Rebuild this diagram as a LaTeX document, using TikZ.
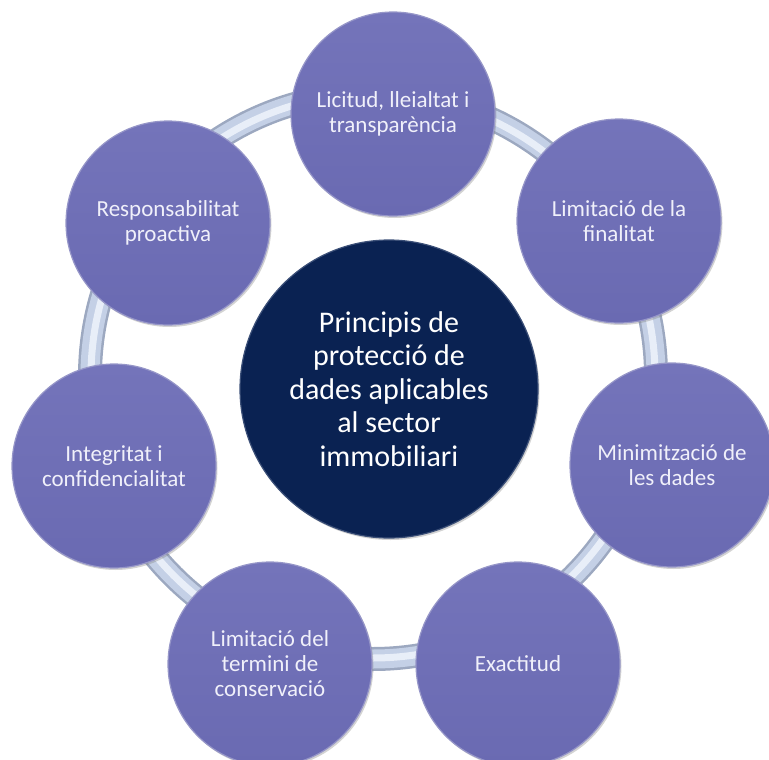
\documentclass[tikz,border=0pt]{standalone}
\usepackage{fontspec}
\setmainfont{Carlito}
\usetikzlibrary{shadows}
\definecolor{ringdark}{RGB}{156,168,192}
\definecolor{ringmid}{RGB}{196,208,230}
\definecolor{ringlight}{RGB}{232,238,248}
\definecolor{petal}{RGB}{106,106,178}
\definecolor{petaltop}{RGB}{116,116,186}
\definecolor{petalline}{RGB}{150,150,200}
\definecolor{petaltext}{RGB}{240,240,250}
\definecolor{hub}{RGB}{10,34,82}
\definecolor{hubline}{RGB}{60,80,120}
\tikzset{
  petal/.style={circle, minimum size=204pt, inner sep=0pt, top color=petaltop, bottom color=petal,
    draw=petalline, line width=1.2pt,
    drop shadow={shadow xshift=1.5pt, shadow yshift=-2pt, opacity=0.35},
    text=petaltext, font=\fontsize{23}{25}\selectfont, align=center},
  hubnode/.style={circle, minimum size=298pt, inner sep=0pt, fill=hub, draw=hubline, line width=1.2pt,
    drop shadow={shadow xshift=1.5pt, shadow yshift=-2pt, opacity=0.35},
    text=white, font=\fontsize{30}{33.5}\selectfont, align=center},
  ringouter/.style={draw=ringdark, line width=24pt},
  ringinner/.style={draw=ringmid, line width=19pt},
  ringhi/.style={draw=ringlight, line width=7pt}
}
\begin{document}
\begin{tikzpicture}[x=1pt, y=-1pt]
  \useasboundingbox (0,0) rectangle (769,760);
  \clip (0,0) rectangle (769,760);
  \coordinate (ringc) at (373,376);
  \draw[ringouter] (ringc) circle[radius=283];
  \draw[ringinner] (ringc) circle[radius=283];
  \draw[ringhi] (ringc) circle[radius=282];
  \node[hubnode] (hub) at (389,389) {Principis de\\protecció de\\dades aplicables\\al sector\\immobiliari};
  \node[petal] (n1) at (393,114) {Licitud, lleialtat i\\transparència};
  \node[petal] (n2) at (619,221) {Limitació de la\\finalitat};
  \node[petal] (n3) at (672,465) {Minimització de\\les dades};
  \node[petal] (n4) at (518,664) {Exactitud};
  \node[petal] (n5) at (270,664) {Limitació del\\termini de\\conservació};
  \node[petal] (n6) at (114,466) {Integritat i\\confidencialitat};
  \node[petal] (n7) at (168,223) {Responsabilitat\\proactiva};
\end{tikzpicture}
\end{document}
